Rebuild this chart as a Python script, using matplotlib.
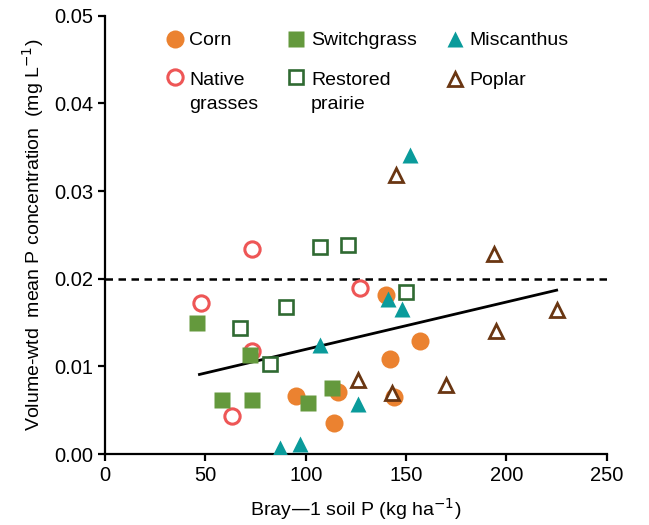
import matplotlib
matplotlib.use("Agg")
import matplotlib.pyplot as plt
from matplotlib.legend_handler import HandlerLine2D
import numpy as np

plt.rcParams['font.family'] = ['Liberation Sans', 'DejaVu Sans']

# data (x = Bray-1 soil P, y = volume-wtd mean P)
corn_x = [95, 116, 114, 142, 157, 144, 140]
corn_y = [0.0066, 0.0071, 0.0035, 0.0109, 0.0129, 0.0065, 0.0182]

switch_x = [46, 58, 73, 72, 101, 113]
switch_y = [0.0149, 0.0062, 0.0062, 0.0113, 0.0058, 0.0075]

misc_x = [152, 141, 148, 107, 126, 87, 97]
misc_y = [0.0341, 0.0177, 0.0165, 0.0125, 0.0057, 0.0007, 0.0011]

native_x = [73, 48, 73, 63, 127]
native_y = [0.0234, 0.0172, 0.0118, 0.0044, 0.0190]

prairie_x = [107, 121, 150, 90, 67, 82]
prairie_y = [0.0236, 0.0238, 0.0185, 0.0168, 0.0144, 0.0103]

poplar_x = [145, 194, 225, 195, 170, 126, 143]
poplar_y = [0.0318, 0.0228, 0.0164, 0.0141, 0.0079, 0.0085, 0.0070]

# regression line and threshold
fit_slope = 5.4e-5
fit_intercept = 0.00655
fit_range = [47, 225]
threshold = 0.02


class FirstLineHandler(HandlerLine2D):
    # put the marker next to the first line of a two-line label
    def __init__(self, shift, **kw):
        super().__init__(**kw)
        self.shift = shift

    def create_artists(self, legend, orig_handle, xdescent, ydescent,
                       width, height, fontsize, trans):
        arts = super().create_artists(legend, orig_handle, xdescent, ydescent,
                                      width, height, fontsize, trans)
        for a in arts:
            a.set_ydata(np.asarray(a.get_ydata()) + self.shift)
        return arts


fig = plt.figure(figsize=(6.49, 5.25), dpi=100)
ax = fig.add_axes([0.162, 0.135, 0.773, 0.835])

h_corn, = ax.plot(corn_x, corn_y, 'o', ms=13, mfc='#EB8230', mec='none', label='Corn', zorder=3)
h_native, = ax.plot(native_x, native_y, 'o', ms=11, mfc='white', mec='#EE5656', mew=2.2,
                    label='Native\ngrasses', zorder=3)
h_switch, = ax.plot(switch_x, switch_y, 's', ms=12, mfc='#64993D', mec='none',
                    label='Switchgrass', zorder=3)
h_prairie, = ax.plot(prairie_x, prairie_y, 's', ms=10.5, mfc='white', mec='#2F6A32', mew=1.9,
                     label='Restored\nprairie', zorder=3)
h_misc, = ax.plot(misc_x, misc_y, '^', ms=11, mfc='#0A9B9B', mec='none',
                  label='Miscanthus', zorder=3)
h_poplar, = ax.plot(poplar_x, poplar_y, '^', ms=9.5, mfc='white', mec='#6A3612', mew=2.0,
                    label='Poplar', zorder=3)

fx = np.array(fit_range)
ax.plot(fx, fit_intercept + fit_slope * fx, color='black', lw=2, zorder=2)
ax.axhline(threshold, color='black', lw=1.8, ls=(0, (3, 2.2)), zorder=1)

ax.set_xlim(0, 250)
ax.set_ylim(0, 0.05)
ax.set_xticks([0, 50, 100, 150, 200, 250])
ax.set_yticks([0, 0.01, 0.02, 0.03, 0.04, 0.05])
ax.set_yticklabels(['0.00', '0.01', '0.02', '0.03', '0.04', '0.05'])

for side in ['top', 'right']:
    ax.spines[side].set_visible(False)
for side in ['left', 'bottom']:
    ax.spines[side].set_linewidth(1.6)
ax.tick_params(width=1.6, length=5, labelsize=14.5, direction='out')

ax.set_xlabel('Bray\u20141 soil P (kg ha$^{-1}$)', fontsize=14, labelpad=8)
ax.set_ylabel('Volume-wtd  mean P concentration  (mg L$^{-1}$)', fontsize=14, labelpad=6)

shift = 10.8
leg = ax.legend(handles=[h_corn, h_native, h_switch, h_prairie, h_misc, h_poplar],
                handler_map={h_native: FirstLineHandler(shift),
                             h_prairie: FirstLineHandler(shift)},
                loc='upper left', bbox_to_anchor=(0.096, 0.99), ncol=3, frameon=False,
                fontsize=14, handletextpad=0.25, columnspacing=1.45, handlelength=1.0,
                labelspacing=1.15, borderaxespad=0.2)
for t in leg.get_texts():
    t.set_linespacing(1.55)

fig.savefig('out.png', dpi=100)
